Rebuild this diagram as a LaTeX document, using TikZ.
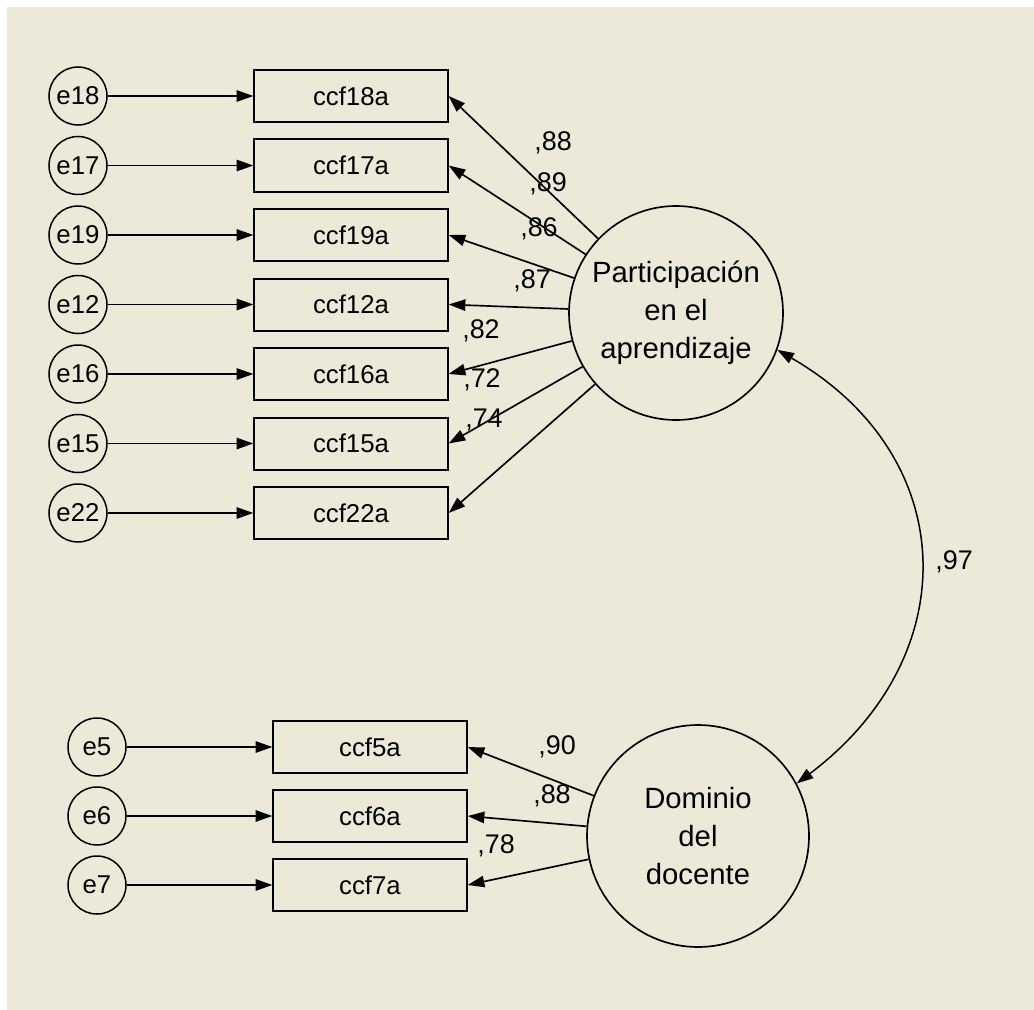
\documentclass[tikz,border=0pt]{standalone}
\usepackage{fontspec}
\setmainfont{Liberation Sans}
\usetikzlibrary{arrows.meta, positioning}
\usepackage{xcolor}
\definecolor{amosbg}{HTML}{ECE9D8}
\tikzset{
  obs/.style    = {draw, line width=0.06cm, minimum width=5.8cm, minimum height=1.56cm,
                   inner sep=0pt, font=\fontsize{22}{26}\selectfont},
  err/.style    = {draw, circle, line width=0.045cm, minimum size=1.74cm, inner sep=0pt,
                   font=\fontsize{22}{26}\selectfont},
  latent/.style = {draw, circle, line width=0.05cm, align=center, inner sep=0pt,
                   font=\fontsize{25}{32.4}\selectfont},
  coef/.style   = {inner sep=0pt, font=\fontsize{23}{27}\selectfont},
  load/.style   = {-{Triangle[length=0.5cm, width=0.34cm]}, line width=0.05cm},
  cov/.style    = {{Triangle[length=0.5cm, width=0.34cm]}-{Triangle[length=0.5cm, width=0.34cm]},
                   line width=0.045cm}
}

\begin{document}
\begin{tikzpicture}[x=0.03cm, y=-0.03cm]
\useasboundingbox (0,0) rectangle (1034,1010);
\fill[amosbg] (7,7) rectangle (1034,1010);
% factor 1
\node[latent, minimum size=6.42cm] (part) at (676,313) {Participación\\en el\\aprendizaje};
\node[obs] (ccf18a) at (351,96) {ccf18a};
\node[obs] (ccf17a) at (351,165.5) {ccf17a};
\node[obs] (ccf19a) at (351,235) {ccf19a};
\node[obs] (ccf12a) at (351,304.5) {ccf12a};
\node[obs] (ccf16a) at (351,374) {ccf16a};
\node[obs] (ccf15a) at (351,443.5) {ccf15a};
\node[obs] (ccf22a) at (351,513) {ccf22a};
\node[err] (e18) at (78,96) {e18};
\node[err] (e17) at (78,165.5) {e17};
\node[err] (e19) at (78,235) {e19};
\node[err] (e12) at (78,304.5) {e12};
\node[err] (e16) at (78,374) {e16};
\node[err] (e15) at (78,443.5) {e15};
\node[err] (e22) at (78,513) {e22};
% factor 2
\node[latent, minimum size=6.66cm] (dom) at (698,836) {Dominio\\del\\docente};
\node[obs] (ccf5a) at (370,747) {ccf5a};
\node[obs] (ccf6a) at (370,816) {ccf6a};
\node[obs] (ccf7a) at (370,885) {ccf7a};
\node[err] (e5) at (97,747) {e5};
\node[err] (e6) at (97,816) {e6};
\node[err] (e7) at (97,885) {e7};
% errors
\draw[load] (e18) -- (ccf18a);
\draw[load] (e17) -- (ccf17a);
\draw[load] (e19) -- (ccf19a);
\draw[load] (e12) -- (ccf12a);
\draw[load] (e16) -- (ccf16a);
\draw[load] (e15) -- (ccf15a);
\draw[load] (e22) -- (ccf22a);
\draw[load] (e5) -- (ccf5a);
\draw[load] (e6) -- (ccf6a);
\draw[load] (e7) -- (ccf7a);
% loadings
\draw[load] (part) -- (ccf18a.east);
\draw[load] (part) -- (ccf17a.east);
\draw[load] (part) -- (ccf19a.east);
\draw[load] (part) -- (ccf12a.east);
\draw[load] (part) -- (ccf16a.east);
\draw[load] (part) -- (ccf15a.east);
\draw[load] (part) -- (ccf22a.east);
\draw[load] (dom) -- (ccf5a.east);
\draw[load] (dom) -- (ccf6a.east);
\draw[load] (dom) -- (ccf7a.east);
\draw[cov] (part.-20) to[out=-30, in=37, looseness=1.25] (dom.28);
% estimates
\node[coef] (k18) at (553,143) {,88};
\node[coef] (k17) at (548,184) {,89};
\node[coef] (k19) at (539,229) {,86};
\node[coef] (k12) at (532,281) {,87};
\node[coef] (k16) at (481,331) {,82};
\node[coef] (k15) at (482,380) {,72};
\node[coef] (k22) at (484,420) {,74};
\node[coef] (k5) at (557,747) {,90};
\node[coef] (k6) at (552,796) {,88};
\node[coef] (k7) at (496,846) {,78};
\node[coef] (kcov) at (954,562) {,97};
\end{tikzpicture}
\end{document}
